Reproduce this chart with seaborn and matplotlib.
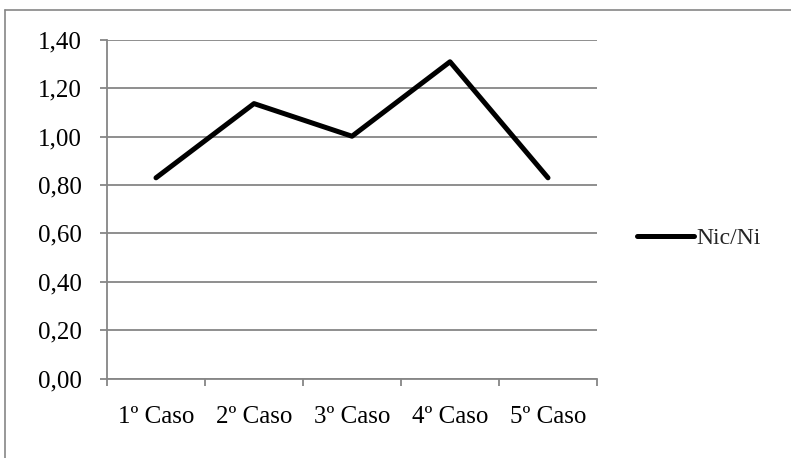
import matplotlib
matplotlib.use("Agg")
import matplotlib.pyplot as plt
import seaborn as sns
import pandas as pd
from matplotlib.ticker import FuncFormatter, FixedLocator
from matplotlib.lines import Line2D

categories = ["1º Caso", "2º Caso", "3º Caso", "4º Caso", "5º Caso"]
values = [0.83, 1.137, 1.002, 1.31, 0.83]
series_name = "Nic/Ni"
y_ticks = [0.0, 0.2, 0.4, 0.6, 0.8, 1.0, 1.2, 1.4]

df = pd.DataFrame({"Caso": categories, "Valor": values, "Serie": series_name})

sns.set_theme(style="white")
plt.rcParams["font.family"] = ["Liberation Serif", "DejaVu Serif"]

FS = 18
W, H = 791, 458
fig = plt.figure(figsize=(W / 100, H / 100), dpi=100)
ax = fig.add_axes([107 / W, 1 - 378.5 / H, (597 - 107) / W, (378.5 - 40) / H])

sns.lineplot(data=df, x="Caso", y="Valor", hue="Serie", palette=["black"],
             linewidth=3.6, ax=ax, legend=False, sort=False)

grid_c = "#868686"
ax.set_ylim(0, 1.4)
ax.set_xlim(-0.5, len(categories) - 0.5)
ax.yaxis.set_major_locator(FixedLocator(y_ticks))
ax.yaxis.set_major_formatter(FuncFormatter(lambda v, p: f"{v:.2f}".replace(".", ",")))
ax.grid(axis="y", color=grid_c, linewidth=1.3)
ax.set_axisbelow(True)
for s in ["top", "right"]:
    ax.spines[s].set_visible(False)
for s in ["left", "bottom"]:
    ax.spines[s].set_color(grid_c)
    ax.spines[s].set_linewidth(1.3)

ax.set_xticks(range(len(categories)))
ax.set_xticklabels(categories)
ax.set_xticks([i - 0.5 for i in range(len(categories) + 1)], minor=True)
ax.tick_params(axis="x", which="major", length=0, pad=20, labelsize=FS, colors="black")
ax.tick_params(axis="x", which="minor", length=5, width=1.3, color=grid_c, direction="out", bottom=True)
ax.tick_params(axis="y", which="major", length=5, width=1.3, color=grid_c, direction="out",
               left=True, pad=13, labelsize=FS, labelcolor="black")
ax.set_xlabel("")
ax.set_ylabel("")

handle = Line2D([0], [0], color="black", linewidth=3.6, solid_capstyle="round")
fig.legend([handle], [series_name], loc="center left",
           bbox_to_anchor=(628 / W, 1 - 238 / H), frameon=False,
           fontsize=17, handlelength=2.4, handletextpad=0.1, borderaxespad=0)

# chart area border (top and left visible)
border_c = "#868686"
fig.add_artist(Line2D([5 / W, 1.0], [1 - 10 / H, 1 - 10 / H], transform=fig.transFigure,
                      color=border_c, linewidth=1.2))
fig.add_artist(Line2D([5 / W, 5 / W], [0.0, 1 - 10 / H], transform=fig.transFigure,
                      color=border_c, linewidth=1.2))

fig.savefig("out.png", dpi=100)
